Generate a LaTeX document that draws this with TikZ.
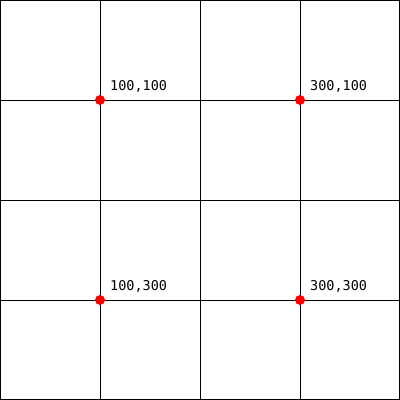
\documentclass[tikz,border=0pt]{standalone}
\usepackage{fontspec}
\setmonofont{DejaVu Sans Mono}
\usetikzlibrary{positioning}

\tikzset{
	gridline/.style={line width=1pt, black},
	pointdot/.style={circle, fill=red, inner sep=0pt, minimum size=10pt},
	pointlabel/.style={anchor=base west, inner sep=0pt, font=\ttfamily\fontsize{13.5}{14}\selectfont}
}

\begin{document}
\begin{tikzpicture}[x=1pt, y=-1pt]
		\useasboundingbox (0,0) rectangle (400,400);
		\fill[white] (0,0) rectangle (400,400);
		% outer frame
		\draw[gridline] (0.5,0.5) rectangle (399.5,399.5);
		% grid lines every 100
		\foreach \k in {100,200,300} {
			\draw[gridline] (\k,0) -- (\k,400);
			\draw[gridline] (0,\k) -- (400,\k);
		}
		% marked points with their coordinates
		\foreach \px/\py in {100/100,300/100,100/300,300/300} {
			\node[pointdot] (p\px\py) at (\px,\py) {};
			\node[pointlabel] (l\px\py) at (\px+10,\py-10) {\px,\py};
		}
	\end{tikzpicture}
\end{document}
